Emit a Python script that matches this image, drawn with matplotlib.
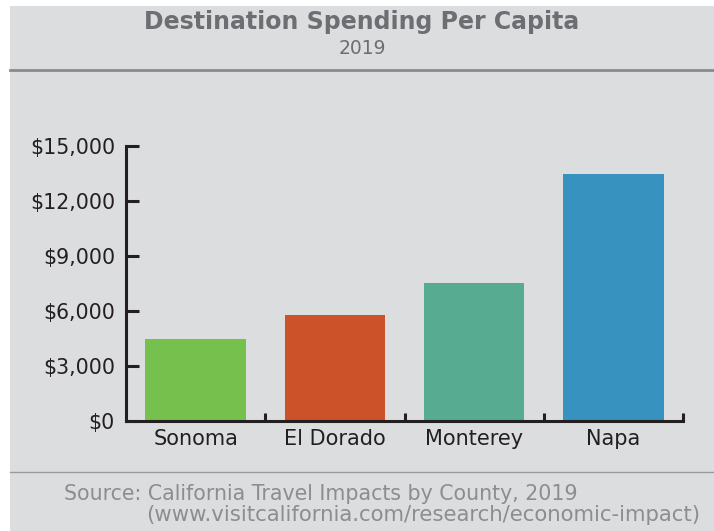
import matplotlib
matplotlib.use('Agg')
import matplotlib.pyplot as plt
from matplotlib.patches import Rectangle
from matplotlib.lines import Line2D
from matplotlib.ticker import FuncFormatter

plt.rcParams['font.family'] = ['DejaVu Sans']

counties = ['Sonoma', 'El Dorado', 'Monterey', 'Napa']
spending = [4500, 5800, 7550, 13500]
bar_colors = ['#76c04e', '#cb5229', '#56ab90', '#3892c0']
y_ticks = [0, 3000, 6000, 9000, 12000, 15000]

W, H = 714, 531
fig = plt.figure(figsize=(W / 100, H / 100), dpi=100, facecolor='white')

# gray panel behind everything
bg = '#dcdddf'
fig.patches.append(Rectangle((10 / W, 0), 1 - 10 / W, 1 - 6 / H, transform=fig.transFigure,
                             facecolor=bg, edgecolor='none', zorder=-5))
fig.lines.append(Line2D([10 / W, 1], [1 - 70 / H, 1 - 70 / H], transform=fig.transFigure,
                        color='#8a8b8d', lw=2))
fig.lines.append(Line2D([10 / W, 1], [1 - 472 / H, 1 - 472 / H], transform=fig.transFigure,
                        color='#9a9b9d', lw=1))

fig.text(362 / W, 1 - 22 / H, 'Destination Spending Per Capita', ha='center', va='center',
         fontsize=17, fontweight='bold', color='#6d6e71')
fig.text(362 / W, 1 - 48 / H, '2019', ha='center', va='center', fontsize=13.5, color='#6d6e71')

ax = fig.add_axes([126 / W, 1 - 421 / H, (683 - 126) / W, (421 - 146) / H])
ax.set_facecolor('none')
ax.set_zorder(2)
ax.bar(range(len(counties)), spending, width=0.72, color=bar_colors, zorder=2)
ax.set_xlim(-0.5, 3.5)
ax.set_ylim(0, 15000)

for s in ['top', 'right']:
    ax.spines[s].set_visible(False)
for s in ['left', 'bottom']:
    ax.spines[s].set_linewidth(2.2)
    ax.spines[s].set_color('#231f20')
    ax.spines[s].set_zorder(3)

ax.set_yticks(y_ticks)
ax.yaxis.set_major_formatter(FuncFormatter(lambda v, p: '${:,.0f}'.format(v)))
ax.tick_params(axis='y', direction='in', length=9, width=2.2, color='#231f20',
               labelsize=14.8, labelcolor='#231f20', pad=8)

ax.set_xticks(range(len(counties)))
ax.set_xticklabels(counties)
ax.set_xticks([0.5, 1.5, 2.5, 3.5], minor=True)
ax.tick_params(axis='x', which='major', length=0, labelsize=15, labelcolor='#231f20', pad=6)
ax.tick_params(axis='x', which='minor', direction='in', length=6, width=2.2, color='#231f20')

src_color = '#8c8d8f'
fig.text(64 / W, 1 - 494 / H, 'Source: California Travel Impacts by County, 2019',
         ha='left', va='center', fontsize=14.8, color=src_color)
fig.text(700 / W, 1 - 515 / H, '(www.visitcalifornia.com/research/economic-impact)',
         ha='right', va='center', fontsize=15.3, color=src_color)

fig.savefig('out.png', dpi=100, facecolor='white')
